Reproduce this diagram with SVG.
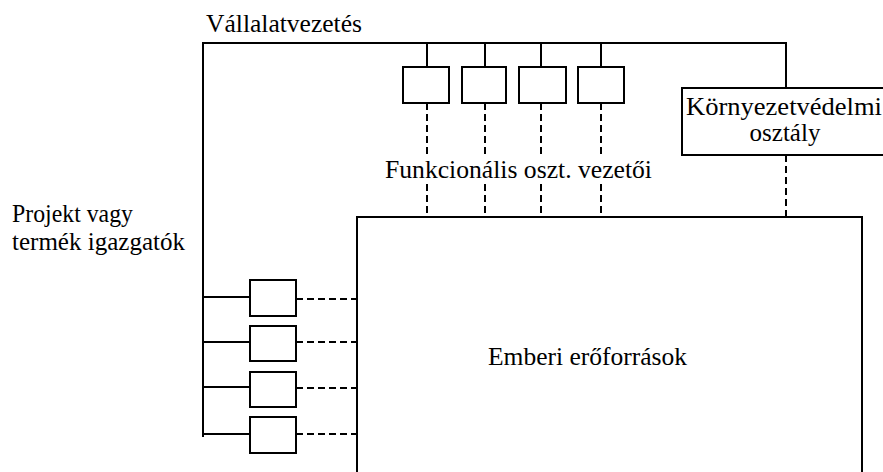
<svg xmlns="http://www.w3.org/2000/svg" width="883" height="472" viewBox="0 0 883 472">
<style>
.ln{fill:none;stroke:#000;stroke-width:2}
.ds{fill:none;stroke:#000;stroke-width:2;stroke-dasharray:7 4}
.bx{fill:#fff;stroke:#000;stroke-width:2}
.t{font-family:'Times New Roman','Liberation Serif',serif;font-size:25px;fill:#000}
</style>
<rect width="883" height="472" fill="#fff"/>
<g id="connectors">
<path class="ln" d="M203,437 V43 H786 V88"/>
<path class="ln" d="M427,43 V67 M485,43 V67 M541,43 V67 M601,43 V67"/>
<path class="ds" d="M427,103 V155 M485,103 V155 M541,103 V155 M601,103 V155"/>
<path class="ds" d="M427,184 V217 M485,184 V217 M541,184 V217 M601,184 V217"/>
<path class="ds" d="M786,155 V217"/>
<path class="ln" d="M203,297 H250 M203,342 H250 M203,387 H250 M203,434 H250"/>
<path class="ds" d="M296,299 H357 M296,342 H357 M296,388 H357 M296,434 H357"/>
</g>
<g id="vallalatvezetes"><text class="t" x="206" y="32" textLength="156" lengthAdjust="spacingAndGlyphs">Vállalatvezetés</text></g>
<g id="func1"><rect class="bx" x="403" y="67" width="46" height="36"/></g>
<g id="func2"><rect class="bx" x="462" y="67" width="44" height="36"/></g>
<g id="func3"><rect class="bx" x="519" y="67" width="47" height="36"/></g>
<g id="func4"><rect class="bx" x="578" y="67" width="46" height="36"/></g>
<g id="funk-label"><text class="t" x="385" y="178" textLength="267" lengthAdjust="spacingAndGlyphs">Funkcionális oszt. vezetői</text></g>
<g id="kornyezet">
<rect class="bx" x="682" y="88" width="210" height="67"/>
<text class="t" x="686" y="115" textLength="196" lengthAdjust="spacingAndGlyphs">Környezetvédelmi</text>
<text class="t" x="785" y="141" text-anchor="middle">osztály</text>
</g>
<g id="projekt-label">
<text class="t" x="12" y="222" textLength="121" lengthAdjust="spacingAndGlyphs">Projekt vagy</text>
<text class="t" x="12" y="250" textLength="173" lengthAdjust="spacingAndGlyphs">termék igazgatók</text>
</g>
<g id="proj1"><rect class="bx" x="250" y="280" width="46" height="36"/></g>
<g id="proj2"><rect class="bx" x="250" y="326" width="46" height="35"/></g>
<g id="proj3"><rect class="bx" x="250" y="372" width="46" height="35"/></g>
<g id="proj4"><rect class="bx" x="250" y="417" width="46" height="36"/></g>
<g id="emberi">
<rect class="bx" x="357" y="217" width="505" height="270"/>
<text class="t" x="488" y="365" textLength="199" lengthAdjust="spacingAndGlyphs">Emberi erőforrások</text>
</g>
</svg>
